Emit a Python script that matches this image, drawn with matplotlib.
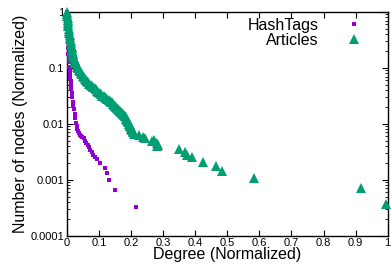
import matplotlib
matplotlib.use("Agg")
import matplotlib.pyplot as plt
from matplotlib.ticker import LogLocator, NullFormatter, FixedLocator

plt.rcParams["font.family"] = ["Liberation Sans", "DejaVu Sans"]

PURPLE = "#9400d3"
GREEN = "#009e73"

# HashTags degree distribution
hash_x = [0.000, 0.000, 0.001, 0.002, 0.003, 0.004, 0.005, 0.006, 0.007, 0.008,
          0.009, 0.010, 0.011, 0.012, 0.013, 0.014, 0.016, 0.018, 0.020, 0.022,
          0.024, 0.026, 0.028, 0.030, 0.032, 0.034, 0.036, 0.040, 0.044, 0.048,
          0.052, 0.056, 0.060, 0.064, 0.068, 0.072, 0.077, 0.082, 0.087, 0.093,
          0.103, 0.117, 0.124, 0.131, 0.151, 0.214]
hash_y = [1.0, 0.6, 0.4, 0.3, 0.23, 0.18, 0.15, 0.125, 0.105, 0.09,
          0.077, 0.066, 0.057, 0.049, 0.042, 0.036, 0.030, 0.025, 0.021, 0.018,
          0.015, 0.0125, 0.0105, 0.0092, 0.0082, 0.0074, 0.0068, 0.0064, 0.0061, 0.0058,
          0.0055, 0.0050, 0.0046, 0.0042, 0.0038, 0.0034, 0.0031, 0.0028, 0.0025, 0.0023,
          0.00196, 0.00164, 0.0013, 0.00099, 0.00066, 0.00033]

# Articles degree distribution
art_x = [0.000, 0.0005, 0.001, 0.0015, 0.002, 0.003, 0.0035, 0.004, 0.005, 0.006,
         0.007, 0.008, 0.009, 0.010, 0.011, 0.012, 0.013, 0.014, 0.015, 0.016,
         0.017, 0.018, 0.019, 0.020, 0.022, 0.024, 0.026, 0.028, 0.030, 0.032,
         0.034, 0.037, 0.040, 0.043, 0.046, 0.049, 0.052, 0.055, 0.058, 0.062,
         0.066, 0.070, 0.074, 0.078, 0.082, 0.086, 0.090, 0.094, 0.098, 0.102,
         0.106, 0.110, 0.114, 0.118, 0.122, 0.126, 0.130, 0.134, 0.138, 0.141,
         0.144, 0.147, 0.150, 0.153, 0.156, 0.159, 0.162, 0.165, 0.168, 0.171,
         0.174, 0.177, 0.180, 0.183, 0.185, 0.187, 0.189, 0.191, 0.193, 0.195,
         0.197, 0.199, 0.201, 0.203, 0.205, 0.207, 0.210,
         0.223, 0.238, 0.244, 0.265, 0.270, 0.280, 0.282, 0.285,
         0.348, 0.367, 0.374, 0.390, 0.423, 0.466, 0.483, 0.584, 0.916, 0.996]
art_y = [1.0, 0.93, 0.86, 0.79, 0.73, 0.66, 0.60, 0.55, 0.50, 0.46,
         0.42, 0.39, 0.36, 0.33, 0.30, 0.28, 0.26, 0.24, 0.225, 0.21,
         0.198, 0.186, 0.175, 0.165, 0.152, 0.140, 0.129, 0.120, 0.112, 0.105,
         0.099, 0.093, 0.087, 0.082, 0.077, 0.072, 0.068, 0.064, 0.061, 0.058,
         0.055, 0.052, 0.049, 0.047, 0.045, 0.043, 0.041, 0.039, 0.037, 0.035,
         0.034, 0.032, 0.031, 0.030, 0.029, 0.028, 0.027, 0.026, 0.025, 0.024,
         0.023, 0.022, 0.021, 0.020, 0.0193, 0.0186, 0.0179, 0.0172, 0.0165, 0.0158,
         0.0151, 0.0144, 0.0137, 0.0130, 0.0123, 0.0117, 0.0111, 0.0106, 0.0101, 0.0096,
         0.0091, 0.0087, 0.0082, 0.0078, 0.0074, 0.0070, 0.0066,
         0.0063, 0.0059, 0.0055, 0.0049, 0.0051, 0.0046, 0.0040, 0.0042,
         0.0035, 0.0031, 0.0028, 0.0025, 0.0021, 0.00176, 0.00143, 0.00106, 0.00072, 0.00036]

x_ticks = [0, 0.1, 0.2, 0.3, 0.4, 0.5, 0.6, 0.7, 0.8, 0.9, 1]
x_tick_labels = ["0", "0.1", "0.2", "0.3", "0.4", "0.5", "0.6", "0.7", "0.8", "0.9", "1"]
y_ticks = [0.0001, 0.001, 0.01, 0.1, 1]
y_tick_labels = ["0.0001", "0.001", "0.01", "0.1", "1"]

fig = plt.figure(figsize=(3.92, 2.65), dpi=100)
ax = fig.add_axes([0.171, 0.111, 0.818, 0.844])

ax.plot(hash_x, hash_y, "s", color=PURPLE, markersize=2.8, markeredgewidth=0,
        clip_on=False, label="HashTags", zorder=3)
ax.plot(art_x, art_y, "^", color=GREEN, markersize=7.2, markeredgewidth=0,
        clip_on=False, label="Articles", zorder=4)

ax.set_yscale("log")
ax.set_xlim(0, 1)
ax.set_ylim(0.0001, 1)

ax.xaxis.set_major_locator(FixedLocator(x_ticks))
ax.set_xticklabels(x_tick_labels)
ax.yaxis.set_major_locator(FixedLocator(y_ticks))
ax.set_yticklabels(y_tick_labels)
ax.yaxis.set_minor_locator(LogLocator(base=10, subs=range(2, 10)))
ax.yaxis.set_minor_formatter(NullFormatter())

ax.tick_params(which="both", direction="in", top=True, right=True,
               labelsize=8, colors="black", pad=2)
ax.tick_params(which="major", length=4, width=0.8)
ax.tick_params(which="minor", length=2, width=0.6)
for s in ax.spines.values():
    s.set_linewidth(1.0)

ax.set_xlabel("Degree (Normalized)", fontsize=11.5, labelpad=-1)
ax.set_ylabel("Number of nodes (Normalized)", fontsize=11.5, labelpad=2)

leg = ax.legend(loc="upper right", bbox_to_anchor=(0.96, 1.025), frameon=False,
                fontsize=11.5, markerfirst=False, handlelength=1.2,
                handletextpad=1.6, labelspacing=0.0, borderpad=0.2)
leg.legend_handles[1].set_markersize(6.5)

fig.savefig("out.png", dpi=100)
